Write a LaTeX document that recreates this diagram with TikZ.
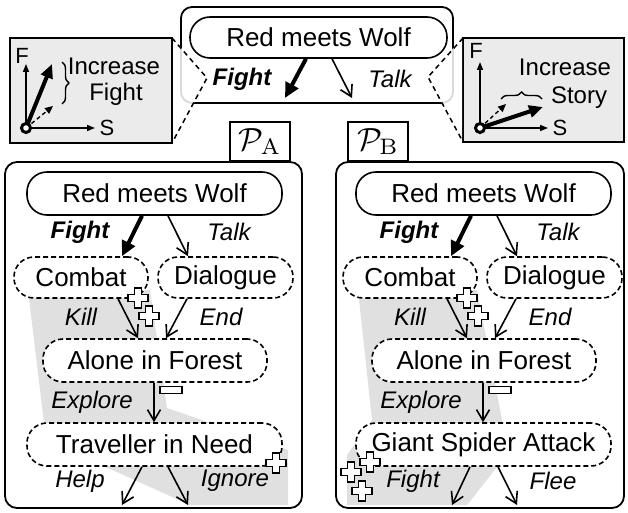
\documentclass[tikz,border=0pt]{standalone}
\usepackage{graphicx}
\usepackage[no-math]{fontspec}
\setmainfont{Liberation Sans}
\usetikzlibrary{arrows.meta,calc,decorations.pathreplacing}
\tikzset{
  boxframe/.style={draw, line width=1.8pt},
  story/.style={draw, line width=1.6pt, rounded corners=20pt, fill=white, inner sep=0pt, minimum height=42pt, font=\fontsize{26}{28}\selectfont},
  choice/.style={story, dash pattern=on 5pt off 3pt},
  lab/.style={inner sep=0pt, font=\fontsize{24}{26}\selectfont\itshape},
  blab/.style={inner sep=0pt, font=\fontsize{24}{26}\selectfont\bfseries\itshape},
  txt/.style={inner sep=0pt, font=\fontsize{24}{26}\selectfont},
  axlab/.style={inner sep=0pt, font=\fontsize{22}{24}\selectfont},
  conn/.style={line width=1.6pt, -{Straight Barb[length=11pt,width=13pt]}},
  fat/.style={line width=4pt, -{Triangle[length=15pt,width=14pt]}},
  axarrow/.style={line width=1.5pt, -{Triangle[length=8pt,width=6pt]}},
  faint/.style={line width=1.4pt, dash pattern=on 4pt off 3pt, -{Triangle[length=8pt,width=7pt]}},
  greyband/.style={fill=black!12},
  callout/.style={line width=1.5pt, dash pattern=on 5pt off 4pt},
  plabel/.style={draw, line width=1.8pt, fill=white, anchor=south, minimum width=60pt, minimum height=39pt, inner sep=0pt},
  plusicon/.pic={\draw[fill=white, line width=1.2pt] (-3.5,-10)--(3.5,-10)--(3.5,-3.5)--(10,-3.5)--(10,3.5)--(3.5,3.5)--(3.5,10)--(-3.5,10)--(-3.5,3.5)--(-10,3.5)--(-10,-3.5)--(-3.5,-3.5)--cycle;},
  minusicon/.pic={\draw[fill=white, line width=1.2pt] (-11,-3.5) rectangle (11,3.5);}
}
\begin{document}
\begin{tikzpicture}[x=1pt,y=-1pt]
\useasboundingbox (0,0) rectangle (628,513);

% ---------- top part ----------
\draw[boxframe, rounded corners=11pt] (181,7) rectangle (453,103);
\draw[boxframe, fill=black!8] (10,38) rectangle (172,143);
\draw[boxframe, fill=black!8] (463,38) rectangle (624,142);

\fill[white, opacity=0.85] (173,38) -- (207,78) -- (173,143) -- cycle;
\draw[callout] (172,38) -- (207,78) -- (172,143);
\fill[white, opacity=0.85] (462,38) -- (428,77) -- (462,142) -- cycle;
\draw[callout] (463,38) -- (428,77) -- (463,142);

\node[story, minimum width=257pt, minimum height=41pt] (rmw0) at (318.5,37.5) {Red meets Wolf};
\node[blab] (f0) at (242,79) {Fight};
\node[lab] (t0) at (390,79) {Talk};
\coordinate (f0end) at (285,98);
\coordinate (t0end) at (352,98);
\draw[fat] ($(rmw0.south)+(-12.5,0)$) -- (f0end);
\draw[conn] ($(rmw0.south)+(13.5,0)$) -- (t0end);

% left inset
\coordinate (oL) at (26,128);
\node[axlab] (FL) at (22,56) {F};
\node[axlab] (SL) at (107,128) {S};
\coordinate (FLtip) at (26,64);
\coordinate (SLtip) at (95,128);
\coordinate (bigL) at (52,64);
\coordinate (smallL) at (53,106);
\draw[axarrow] (oL) -- (FLtip);
\draw[axarrow] (oL) -- (SLtip);
\draw[faint] (oL) -- (smallL);
\draw[fat, -{Triangle[length=14pt,width=12pt]}] (oL) -- (bigL);
\draw[line width=3pt, fill=white] (oL) circle (4.5);
\draw[line width=1.4pt, decorate, decoration={brace, amplitude=7pt}] (62,62) -- (62,104);
\node[txt] (incL) at (114,66) {Increase};
\node[txt] (figL) at (116,94) {Fight};

% right inset
\coordinate (oR) at (480,128);
\node[axlab] (FR) at (476,51) {F};
\node[axlab] (SR) at (560,128) {S};
\coordinate (FRtip) at (480,62);
\coordinate (SRtip) at (548,128);
\coordinate (bigR) at (543,107);
\coordinate (smallR) at (506,104);
\draw[axarrow] (oR) -- (FRtip);
\draw[axarrow] (oR) -- (SRtip);
\draw[faint] (oR) -- (smallR);
\draw[fat, -{Triangle[length=14pt,width=12pt]}] (oR) -- (bigR);
\draw[line width=3pt, fill=white] (oR) circle (4.5);
\draw[line width=1.4pt, decorate, decoration={brace, amplitude=7pt}] (501,99) -- (542,99);
\node[txt] (incR) at (565,67) {Increase};
\node[txt] (stoR) at (579,98) {Story};

% ---------- bottom frames ----------
\node[plabel] (PA) at (260,162) {\scalebox{3.2}{$\mathcal{P}_{\mathrm{A}}$}};
\node[plabel] (PB) at (378,162) {\scalebox{3.2}{$\mathcal{P}_{\mathrm{B}}$}};
\draw[boxframe, fill=white, rounded corners=12pt] (5,162) rectangle (302,508);
\draw[boxframe, fill=white, rounded corners=12pt] (336,162) rectangle (624,508);

% grey bands
\fill[greyband] (28,290) -- (46,440) -- (190,505) -- (288,505) -- (288,450) -- (167,408) -- (150,290) -- cycle;
\fill[greyband] (358,290) -- (372,420) -- (347,455) -- (347,505) -- (467,505) -- (497,467) -- (502,420) -- (477,290) -- cycle;

% ---------- panel A ----------
\node[story, minimum width=255pt, minimum height=43pt] (rmwA) at (154.5,193.5) {Red meets Wolf};
\node[choice, minimum width=134pt, minimum height=41pt] (combA) at (81,277.5) {Combat};
\node[choice, minimum width=135pt, minimum height=41pt] (dialA) at (225.5,277.5) {Dialogue};
\node[choice, minimum width=224pt, minimum height=43pt] (aloneA) at (155,360.5) {Alone in Forest};
\node[choice, minimum width=255pt, minimum height=43pt] (travA) at (154.5,444.5) {Traveller in Need};

\draw[fat] ($(rmwA.south)+(-12.5,0)$) -- ($(combA.north)+(41,0)$);
\draw[conn] ($(rmwA.south)+(13.5,0)$) -- ($(dialA.north)+(-37.5,0)$);
\draw[conn] ($(combA.south)+(37,0)$) -- ($(aloneA.north)+(-17,0)$);
\draw[conn] ($(dialA.south)+(-38.5,0)$) -- ($(aloneA.north)+(11,0)$);
\draw[conn] ($(aloneA.south)+(-1,0)$) -- ($(travA.north)+(-0.5,0)$);
\coordinate (helpA) at (122,505);
\coordinate (ignA) at (188,505);
\draw[conn] ($(travA.south)+(-12.5,0)$) -- (helpA);
\draw[conn] ($(travA.south)+(13.5,0)$) -- (ignA);

\node[blab] (fA) at (80,232) {Fight};
\node[lab] (tA) at (229,232) {Talk};
\node[lab] (kA) at (81,317) {Kill};
\node[lab] (eA) at (221,317) {End};
\node[lab] (xA) at (92,402) {Explore};
\node[lab] (hA) at (80,481) {Help};
\node[lab] (iA) at (235,481) {Ignore};

\pic at (138,298) {plusicon};
\pic at (149,316) {plusicon};
\pic at (171,390) {minusicon};
\pic at (276,463) {plusicon};

% ---------- panel B ----------
\node[story, minimum width=255pt, minimum height=43pt] (rmwB) at (483.5,193.5) {Red meets Wolf};
\node[choice, minimum width=134pt, minimum height=41pt] (combB) at (410,277.5) {Combat};
\node[choice, minimum width=135pt, minimum height=41pt] (dialB) at (554.5,277.5) {Dialogue};
\node[choice, minimum width=224pt, minimum height=43pt] (aloneB) at (484,360.5) {Alone in Forest};
\node[choice, minimum width=255pt, minimum height=43pt] (spidB) at (483.5,444.5) {Giant Spider Attack};

\draw[fat] ($(rmwB.south)+(-12.5,0)$) -- ($(combB.north)+(41,0)$);
\draw[conn] ($(rmwB.south)+(13.5,0)$) -- ($(dialB.north)+(-37.5,0)$);
\draw[conn] ($(combB.south)+(37,0)$) -- ($(aloneB.north)+(-17,0)$);
\draw[conn] ($(dialB.south)+(-38.5,0)$) -- ($(aloneB.north)+(11,0)$);
\draw[conn] ($(aloneB.south)+(-1,0)$) -- ($(spidB.north)+(-0.5,0)$);
\coordinate (fightB) at (452,505);
\coordinate (fleeB) at (517,505);
\draw[conn] ($(spidB.south)+(-13.5,0)$) -- (fightB);
\draw[conn] ($(spidB.south)+(14.5,0)$) -- (fleeB);

\node[blab] (fB) at (409,232) {Fight};
\node[lab] (tB) at (558,232) {Talk};
\node[lab] (kB) at (410,317) {Kill};
\node[lab] (eB) at (550,317) {End};
\node[lab] (xB) at (421,402) {Explore};
\node[lab] (gB) at (413,481) {Fight};
\node[lab] (lB) at (553,481) {Flee};

\pic at (467,298) {plusicon};
\pic at (478,316) {plusicon};
\pic at (500,390) {minusicon};
\pic at (370,462) {plusicon};
\pic at (351,472) {plusicon};
\pic at (362,491) {plusicon};
\end{tikzpicture}
\end{document}
